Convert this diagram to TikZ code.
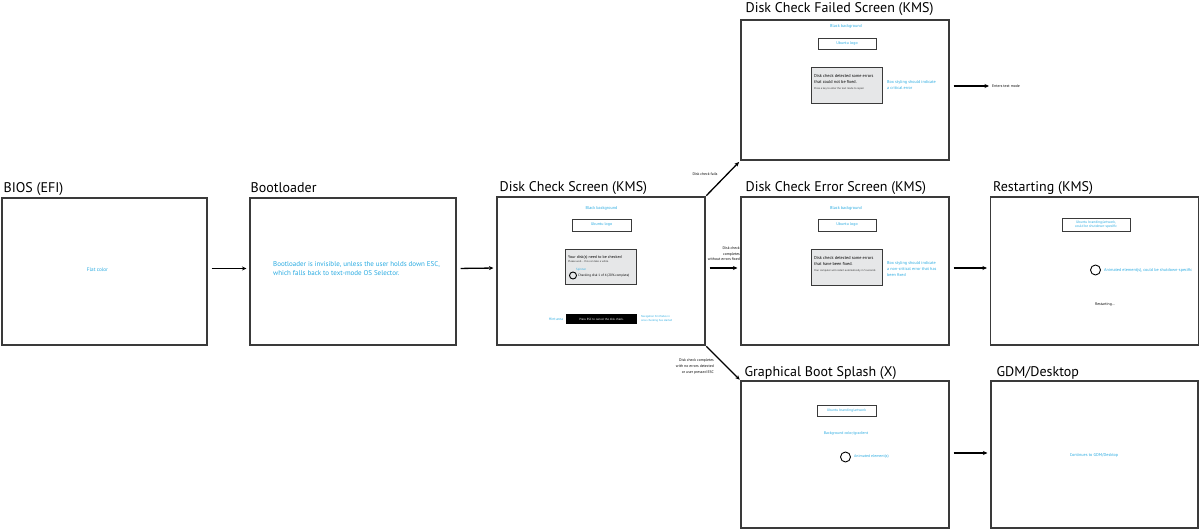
\documentclass[tikz,border=0pt]{standalone}
\usepackage{fontspec}
\setmainfont{PT Sans}
\usetikzlibrary{arrows.meta}
\definecolor{cy}{HTML}{29ABE2}
\definecolor{frame}{HTML}{3A3A3A}
\definecolor{boxgray}{HTML}{E6E7E8}
\begin{document}
\begin{tikzpicture}[x=1pt,y=-1pt,
  screen/.style={draw=frame, line width=1.1pt, fill=white, inner sep=0pt},
  ttl/.style={font=\fontsize{14}{14}\selectfont, anchor=base west, inner sep=0pt},
  note/.style={text=cy, font=\fontsize{4.2}{5.6}\selectfont, inner sep=0pt},
  small/.style={text=black, font=\fontsize{3.8}{5.5}\selectfont, inner sep=0pt},
  logobox/.style={draw=frame, line width=0.9pt, text=cy, font=\fontsize{4}{5}\selectfont, inner sep=0pt},
  graybox/.style={draw=frame, line width=1pt, fill=boxgray, inner sep=0pt},
  msg/.style={text=black, font=\fontsize{4.3}{6}\selectfont, inner sep=0pt, anchor=base west},
  tiny/.style={text=black!80, font=\fontsize{2.7}{3.5}\selectfont, inner sep=0pt, anchor=base west},
  spin/.style={circle, draw=black, line width=0.9pt, inner sep=0pt},
  arr/.style={draw=black, line width=1.3pt, -{Stealth[length=4.5pt,width=4pt]}, shorten <=4pt, shorten >=3pt}
]
\useasboundingbox (0,0) rectangle (1200,529);

% ---------- screens ----------
\node[screen, minimum width=205pt, minimum height=147pt] (bios) at (104.5,271.5) {};
\node[screen, minimum width=206pt, minimum height=147pt] (boot) at (353,271.5) {};
\node[screen, minimum width=208pt, minimum height=148pt] (dc) at (601,271) {};
\node[screen, minimum width=208pt, minimum height=140pt] (fail) at (845,90) {};
\node[screen, minimum width=208pt, minimum height=148pt] (err) at (845,271) {};
\node[screen, minimum width=208pt, minimum height=148pt] (rest) at (1094.5,271) {};
\node[screen, minimum width=208pt, minimum height=147pt] (splash) at (845,454.5) {};
\node[screen, minimum width=207pt, minimum height=147pt] (gdm) at (1094.5,454.5) {};

% ---------- titles ----------
\node[ttl] (tbios) at ([xshift=2pt,yshift=5pt]bios.north west) {BIOS (EFI)};
\node[ttl] (tboot) at ([xshift=1pt,yshift=5pt]boot.north west) {Bootloader};
\node[ttl] (tdc) at ([xshift=3pt,yshift=5pt]dc.north west) {Disk Check Screen (KMS)};
\node[ttl] (tfail) at ([xshift=5pt,yshift=7pt]fail.north west) {Disk Check Failed Screen (KMS)};
\node[ttl] (terr) at ([xshift=5pt,yshift=5pt]err.north west) {Disk Check Error Screen (KMS)};
\node[ttl] (trest) at ([xshift=3pt,yshift=5pt]rest.north west) {Restarting (KMS)};
\node[ttl] (tsplash) at ([xshift=4pt,yshift=4pt]splash.north west) {Graphical Boot Splash (X)};
\node[ttl] (tgdm) at ([xshift=6pt,yshift=4pt]gdm.north west) {GDM/Desktop};

% ---------- BIOS / Bootloader ----------
\node[note, font=\fontsize{5.2}{6}\selectfont] (flat) at (97.5,270) {Flat color};
\node[note, align=left, anchor=west, font=\fontsize{7}{8.4}\selectfont] (boottxt) at (273,268.5)
  {Bootloader is invisible, unless the user holds down ESC,\\which falls back to text-mode OS Selector.};

% ---------- Disk check screen ----------
\node[note] (dcbg) at (601.5,208) {Black background};
\node[logobox, minimum width=59pt, minimum height=12pt] (dclogo) at (601.5,225) {Ubuntu logo};
\node[graybox, minimum width=71pt, minimum height=35pt] (dcmsg) at (600.5,267.5) {};
\node[msg, font=\fontsize{4}{5}\selectfont] (dcm1) at (568,258.5) {Your disk(s) need to be checked};
\node[tiny] (dcm2) at (568,263) {Please wait... this can take a while.};
\node[note, font=\fontsize{3}{3.5}\selectfont, anchor=base west] (dcspinl) at (576,271) {Spinner};
\node[spin, minimum size=7pt] (dcspin) at (573,275.5) {};
\node[small, font=\fontsize{3.3}{4}\selectfont, anchor=west] (dcprog) at (578,275.5) {Checking disk 1 of 4 (20\% complete)};
\node[note, font=\fontsize{3.6}{4}\selectfont] (dchint) at (556,319.5) {Hint area};
\node[fill=black, minimum width=71pt, minimum height=10pt, inner sep=0pt, text=white, font=\fontsize{3}{3.5}\selectfont] (dcesc) at (601.5,319) {Press ESC to cancel the disk check.};
\node[note, font=\fontsize{2.8}{3.6}\selectfont, anchor=west, align=left] (dchint2) at (641,319) {Navigation hint fades in\\once checking has started};

% ---------- Disk check failed ----------
\node[note] (fbg) at (846,26) {Black background};
\node[logobox, minimum width=58pt, minimum height=11pt] (flogo) at (847,43.5) {Ubuntu logo};
\node[graybox, minimum width=71pt, minimum height=36pt] (fmsg) at (846.5,86) {};
\node[msg] (fm1) at (814,77.5) {Disk check detected some errors};
\node[msg] (fm2) at (814,83.5) {that could not be fixed.};
\node[tiny] (fm3) at (814,90) {Press a key to enter the text mode to repair};
\node[note, anchor=west, align=left] (fnote) at (887,85) {Box styling should indicate\\a critical error};
\node[small, anchor=west] (textmode) at (992,86) {Enters text mode};

% ---------- Disk check error ----------
\node[note] (ebg) at (846,208) {Black background};
\node[logobox, minimum width=58pt, minimum height=12pt] (elogo) at (847,225) {Ubuntu logo};
\node[graybox, minimum width=71pt, minimum height=36pt] (emsg) at (846.5,268) {};
\node[msg] (em1) at (814,259.5) {Disk check detected some errors};
\node[msg] (em2) at (814,265.5) {that have been fixed.};
\node[tiny] (em3) at (814,272) {Your computer will restart automatically in 5 seconds};
\node[note, anchor=west, align=left] (enote) at (887,269) {Box styling should indicate\\a non-critical error that has\\been fixed};

% ---------- Restarting ----------
\node[logobox, minimum width=68pt, minimum height=13pt, align=center, font=\fontsize{3.6}{4.6}\selectfont] (rlogo) at (1096,224.5) {Ubuntu branding/artwork,\\could be shutdown-specific};
\node[spin, minimum size=10pt] (rspin) at (1095.5,270) {};
\node[note, anchor=west, font=\fontsize{4.2}{5}\selectfont] (ranim) at (1104,270) {Animated element(s), could be shutdown-specific};
\node[small] (rtxt) at (1105,305) {Restarting...};

% ---------- Graphical boot splash ----------
\node[logobox, minimum width=59pt, minimum height=11pt, font=\fontsize{3.6}{4.5}\selectfont] (slogo) at (846.5,410.5) {Ubuntu branding/artwork};
\node[note, font=\fontsize{3.9}{5}\selectfont] (sbg) at (846,434) {Background color/gradient};
\node[spin, minimum size=10pt] (sspin) at (845.5,457) {};
\node[note, anchor=west, font=\fontsize{3.9}{5}\selectfont] (sanim) at (854,457) {Animated element(s)};

% ---------- GDM ----------
\node[note] (gtxt) at (1094,455) {Continues to GDM/Desktop};

% ---------- connectors ----------
\draw[arr] ([yshift=3pt]bios.east) -- ([yshift=3pt]boot.west);
\draw[arr] ([yshift=3pt]boot.east) -- ([yshift=3pt]dc.west);
\draw[arr] ([yshift=3pt]dc.east) -- ([yshift=3pt]err.west);
\draw[arr] ([yshift=3pt]err.east) -- ([yshift=3pt]rest.west);
\draw[arr] ([yshift=1.5pt]splash.east) -- ([yshift=1.5pt]gdm.west);
\draw[arr] (fail.east |- textmode.west) -- (textmode.west);
\draw[arr, shorten <=1pt, shorten >=2pt] (dc.north east) -- (fail.south west);
\draw[arr, shorten <=1pt, shorten >=1pt] (dc.south east) -- (splash.north west);

% ---------- connector labels ----------
\node[small] (lfail) at (705,174) {Disk check fails};
\node[small, anchor=east, align=right, font=\fontsize{3.8}{5.4}\selectfont] (lok) at (740,254) {Disk check\\completes\\without errors fixed};
\node[small, anchor=east, align=right, font=\fontsize{3.8}{5.8}\selectfont] (lesc) at (714,366.5) {Disk check completes\\with no errors detected\\or user pressed ESC};
\end{tikzpicture}
\end{document}
